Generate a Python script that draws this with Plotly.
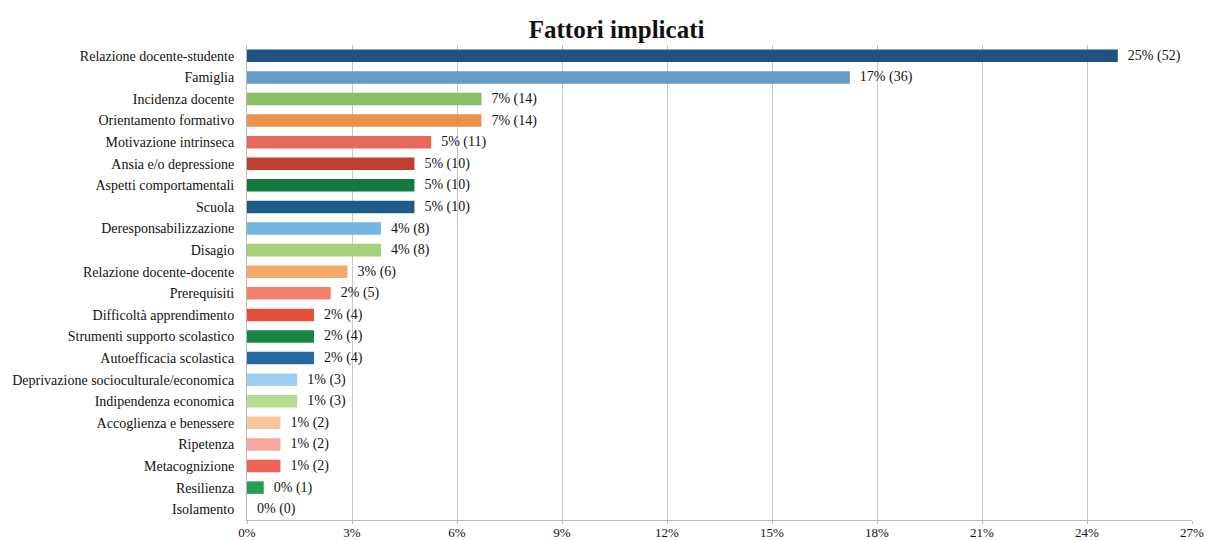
import plotly.graph_objects as go

categories = [
    "Relazione docente-studente", "Famiglia", "Incidenza docente", "Orientamento formativo",
    "Motivazione intrinseca", "Ansia e/o depressione", "Aspetti comportamentali", "Scuola",
    "Deresponsabilizzazione", "Disagio", "Relazione docente-docente", "Prerequisiti",
    "Difficoltà apprendimento", "Strumenti supporto scolastico", "Autoefficacia scolastica",
    "Deprivazione socioculturale/economica", "Indipendenza economica", "Accoglienza e benessere",
    "Ripetenza", "Metacognizione", "Resilienza", "Isolamento",
]
counts = [52, 36, 14, 14, 11, 10, 10, 10, 8, 8, 6, 5, 4, 4, 4, 3, 3, 2, 2, 2, 1, 0]
pct_labels = ["25%", "17%", "7%", "7%", "5%", "5%", "5%", "5%", "4%", "4%", "3%", "2%",
              "2%", "2%", "2%", "1%", "1%", "1%", "1%", "1%", "0%", "0%"]
colors = ["#1f527c", "#659dc8", "#88c068", "#ec9149", "#e6695a", "#c03f33", "#137a3e",
          "#1f5b8a", "#73b5e3", "#a5d178", "#f5a96b", "#f1806f", "#e94f3d", "#188541",
          "#2469a2", "#9dcff0", "#b8dc8f", "#f8c59c", "#f5a89e", "#ef6357", "#25a04f", "#cccccc"]
tick_vals = [0, 3, 6, 9, 12, 15, 18, 21, 24, 27]
tick_text = ["0%", "3%", "6%", "9%", "12%", "15%", "18%", "21%", "24%", "27%"]

total = sum(counts)
values = [c / total * 100 for c in counts]
texts = [f"\u00a0\u00a0{p} ({c})" for p, c in zip(pct_labels, counts)]

serif = "Liberation Serif, Times New Roman, serif"

fig = go.Figure(go.Bar(
    y=categories, x=values, orientation="h",
    marker=dict(color=colors, line=dict(width=0)),
    width=0.58,
    text=texts, textposition="outside", cliponaxis=False, constraintext="none",
    textfont=dict(family=serif, size=14, color="#111111"),
    hoverinfo="skip",
))

fig.update_layout(
    width=1209, height=540,
    margin=dict(l=247, r=17, t=45, b=20, autoexpand=False),
    paper_bgcolor="white", plot_bgcolor="white",
    title=dict(text="<b>Fattori implicati</b>", x=0.51, xanchor="center", y=0.946, yanchor="middle",
               font=dict(family=serif, size=25, color="#111111")),
    showlegend=False,
    bargap=0.4,
)
fig.update_xaxes(
    range=[0, 27], tickvals=tick_vals, ticktext=tick_text, automargin=False,
    showgrid=True, gridcolor="#c8c8c8", gridwidth=1,
    showline=True, linecolor="#b8b8b8", linewidth=1,
    ticks="outside", ticklen=3, tickcolor="#b8b8b8", ticklabelstandoff=-3,
    tickfont=dict(family=serif, size=13, color="#111111"),
    zeroline=False, fixedrange=True,
)
fig.update_yaxes(
    autorange="reversed", showline=True, linecolor="#b8b8b8", linewidth=1,
    ticks="", ticklabelstandoff=9, automargin=False,
    tickfont=dict(family=serif, size=14, color="#111111"),
    showgrid=False, fixedrange=True,
)

fig.write_html(
    "out.html",
    config={"displayModeBar": False, "staticPlot": True},
    post_script="document.body.style.margin='0';document.body.style.overflow='hidden';",
)
